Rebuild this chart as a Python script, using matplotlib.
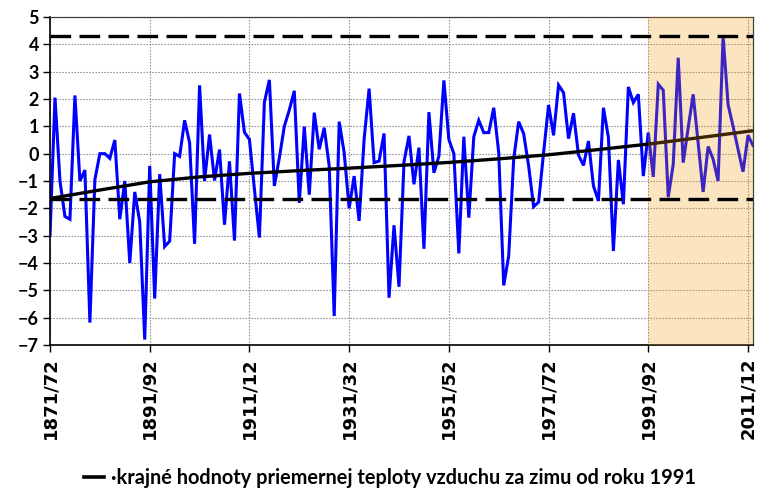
import matplotlib
matplotlib.use("Agg")
import matplotlib.pyplot as plt
from matplotlib.lines import Line2D

# ---- data (winter mean air temperature anomalies, 1871/72 .. 2012/13) ----
temps = [
    -3.0, 2.05, -1.0, -2.3, -2.4, 2.13, -1.0, -0.6, -6.18, -0.95,
    0.0, 0.0, -0.17, 0.5, -2.4, -1.0, -4.0, -1.4, -2.5, -6.8,
    -0.45, -5.3, -0.75, -3.4, -3.2, 0.0, -0.1, 1.22, 0.4, -3.3,
    2.5, -1.0, 0.7, -0.98, 0.15, -2.6, -0.28, -3.18, 2.2, 0.78,
    0.52, -1.3, -3.07, 1.88, 2.7, -1.18, -0.15, 1.0, 1.6, 2.3,
    -1.8, 0.99, -1.5, 1.5, 0.16, 0.95, -0.45, -5.94, 1.17, 0.04,
    -2.0, -0.82, -2.46, 0.52, 2.38, -0.33, -0.27, 0.74, -5.27, -2.62,
    -4.87, -0.3, 0.65, -1.12, 0.22, -3.48, 1.52, -0.7, -0.09, 2.68,
    0.52, 0.0, -3.65, 0.62, -2.34, 0.62, 1.22, 0.77, 0.77, 1.68,
    0.04, -4.82, -3.74, -0.2, 1.17, 0.73, -0.45, -1.94, -1.77, 0.04,
    1.78, 0.67, 2.51, 2.23, 0.55, 1.48, -0.05, -0.43, 0.46, -1.18,
    -1.73, 1.68, 0.59, -3.56, -0.23, -1.85, 2.44, 1.87, 2.17, -0.82,
    0.77, -0.85, 2.54, 2.32, -1.59, -0.39, 3.51, -0.33, 0.95, 2.17,
    0.4, -1.4, 0.26, -0.2, -1.0, 4.3, 1.8, 1.0, 0.16, -0.66,
    0.67, 0.3,
]
years = list(range(len(temps)))  # index 0 = 1871/72

trend_x = [0, 10, 20, 30, 40, 50, 60, 70, 80, 90, 100, 110, 120, 130, 141]
trend_y = [-1.64, -1.33, -1.03, -0.85, -0.72, -0.62, -0.53, -0.43, -0.32,
           -0.19, -0.04, 0.15, 0.35, 0.58, 0.84]

upper_extreme = 4.32
lower_extreme = -1.66
highlight_start = 120  # 1991/92

tick_pos = [0, 20, 40, 60, 80, 100, 120, 140]
tick_labels = ["1871/72", "1891/92", "1911/12", "1931/32", "1951/52",
               "1971/72", "1991/92", "2011/12"]
legend_label = "·krajné hodnoty priemernej teploty vzduchu za zimu od roku 1991"

# ---- figure ----
fig = plt.figure(figsize=(7.58, 4.94), dpi=100)
ax = fig.add_axes([50 / 758, 1 - 345 / 494, (753 - 50) / 758, (345 - 17) / 494])

ax.plot(years, temps, color="#0000FF", lw=2.2, zorder=2, solid_joinstyle="miter")
ax.plot(trend_x, trend_y, color="black", lw=2.4, zorder=2.5)
ax.axhline(upper_extreme, color="black", lw=2.4, ls=(0, (6.2, 2.5)), zorder=4)
ax.axhline(lower_extreme, color="black", lw=2.4, ls=(0, (6.2, 2.5)), zorder=4)
ax.axvspan(highlight_start, 141, color="#F39404", alpha=0.25, lw=0, zorder=3)

ax.set_xlim(0, 141)
ax.set_ylim(-7, 5)
ax.set_yticks(range(-7, 6))
ax.set_xticks(tick_pos)
ax.set_xticklabels(tick_labels, rotation=90, fontsize=13, fontweight="bold",
                   family="DejaVu Sans")
for lab in ax.get_yticklabels():
    lab.set_fontsize(13)
    lab.set_fontweight("bold")
    lab.set_family("Lato")

ax.grid(True, color="#808080", linestyle=(0, (1.2, 1.5)), linewidth=0.8, zorder=0)
ax.set_axisbelow(True)
ax.tick_params(direction="out", length=5, width=1, color="black", pad=3)
ax.tick_params(axis="x", pad=4)

for s in ["left", "bottom"]:
    ax.spines[s].set_color("black")
    ax.spines[s].set_linewidth(1.2)
for s in ["top", "right"]:
    ax.spines[s].set_color("#404040")
    ax.spines[s].set_linewidth(0.9)

handle = Line2D([], [], color="black", lw=2.6)
fig.legend([handle], [legend_label], loc="center",
           bbox_to_anchor=(390 / 758, 1 - 478 / 494), frameon=False,
           handlelength=1.0, handletextpad=0.35,
           prop={"family": "Lato", "weight": "bold", "size": 14.3})

fig.savefig("out.png", dpi=100)
